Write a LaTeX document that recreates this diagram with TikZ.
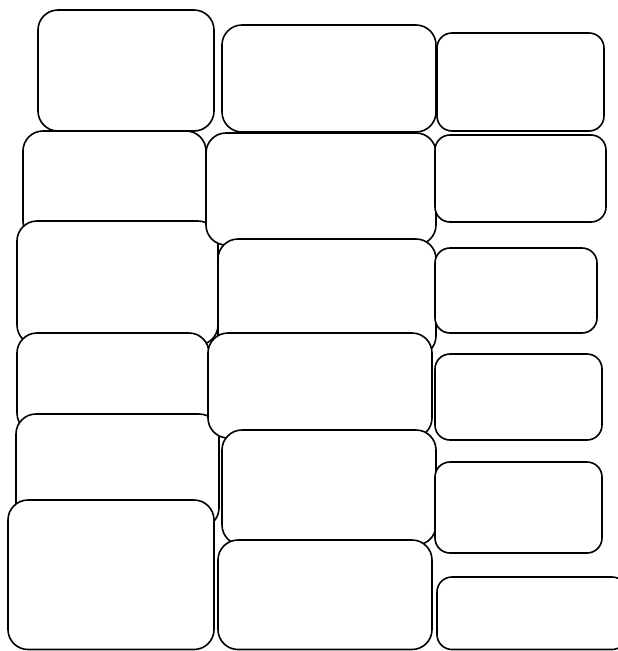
\documentclass[tikz,border=0pt]{standalone}
\begin{document}
\begin{tikzpicture}[x=1pt,y=-1pt,
  bx/.style={draw, line width=1.6pt, rounded corners=20pt, fill=white, inner sep=0pt, outer sep=0pt, anchor=north west},
  sbx/.style={bx, rounded corners=15pt}]
\useasboundingbox (0,0) rectangle (618,651);
% column 1
\node[bx, minimum width=176pt, minimum height=121pt] (a1) at (38,10) {};
\node[bx, minimum width=183pt, minimum height=110pt] (a2) at (23,131) {};
\node[bx, minimum width=201pt, minimum height=124pt] (a3) at (17,221) {};
\node[bx, minimum width=192pt, minimum height=100pt] (a4) at (17,333) {};
\node[bx, minimum width=203pt, minimum height=114pt] (a5) at (16,414) {};
\node[bx, minimum width=206pt, minimum height=149.5pt] (a6) at (8,500) {};
% column 2
\node[bx, minimum width=214pt, minimum height=107pt] (b1) at (222,25) {};
\node[bx, minimum width=230pt, minimum height=112pt] (b2) at (206,133) {};
\node[bx, minimum width=218pt, minimum height=117pt] (b3) at (218,239) {};
\node[bx, minimum width=224pt, minimum height=105pt] (b4) at (208,333) {};
\node[bx, minimum width=214pt, minimum height=115pt] (b5) at (222,430) {};
\node[bx, minimum width=214pt, minimum height=109.5pt] (b6) at (218,540) {};
% column 3
\node[sbx, minimum width=167pt, minimum height=98pt] (c1) at (437,33) {};
\node[sbx, minimum width=171pt, minimum height=87pt] (c2) at (435,135) {};
\node[sbx, minimum width=162pt, minimum height=85pt] (c3) at (435,248) {};
\node[sbx, minimum width=167pt, minimum height=86pt] (c4) at (435,354) {};
\node[sbx, minimum width=167pt, minimum height=91pt] (c5) at (435,462) {};
\node[sbx, minimum width=190pt, minimum height=72.5pt] (c6) at (437,577) {};
\end{tikzpicture}
\end{document}
